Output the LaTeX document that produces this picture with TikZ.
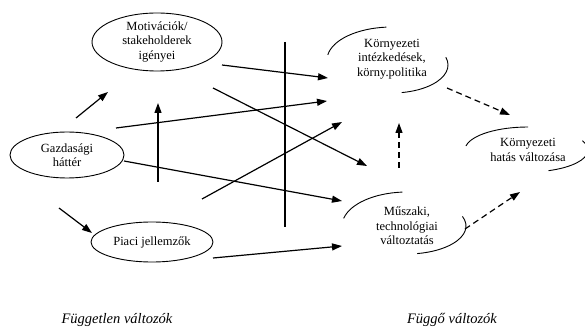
\documentclass[tikz,border=0pt]{standalone}
\usepackage{fontspec}
\setmainfont{Liberation Serif}
\usetikzlibrary{arrows.meta,shapes.geometric}
\tikzset{
  oval/.style={ellipse, draw, line width=0.9pt, inner sep=0pt, align=center, font=\fontsize{12.5}{14.5}\selectfont},
  field/.style={align=center, font=\fontsize{12.5}{14.5}\selectfont},
  rim/.style={line width=0.9pt},
  arr/.style={line width=1.2pt, -{Triangle[length=10pt,width=7pt]}},
  darr/.style={arr, dash pattern=on 6pt off 4pt},
  axis label/.style={font=\fontsize{14.5}{16}\selectfont\itshape}
}
\begin{document}
\begin{tikzpicture}[x=1pt, y=1pt]
            \useasboundingbox (0,0) rectangle (585,329);

            \node (motiv) at (157,287) [oval, minimum width=130pt, minimum height=58pt] {Motivációk/\\stakeholderek\\igényei};
            \node (gazd) at (67,174) [oval, minimum width=114pt, minimum height=46pt] {Gazdasági\\háttér};
            \node (piaci) at (152,87) [oval, minimum width=122pt, minimum height=40pt] {Piaci jellemzők};

            \node (kornyint) at (392,270) [field] {Környezeti\\intézkedések,\\körny.politika};
            \node (hatas) at (528,179) [field] {Környezeti\\hatás változása};
            \node (muszaki) at (407,103) [field] {Műszaki,\\technológiai\\változtatás};

            \draw[rim] ([yshift=-1pt]kornyint.center) ++(171:65pt and 33pt) arc[start angle=171, end angle=95, x radius=65pt, y radius=33pt];
            \draw[rim] ([yshift=-6pt]kornyint.center) ++(16:56pt and 28pt) arc[start angle=16, end angle=-80, x radius=56pt, y radius=28pt];
            \draw[rim] (hatas.center) ++(170:63pt and 23pt) arc[start angle=170, end angle=90, x radius=63pt, y radius=23pt];
            \draw[rim] (hatas.center) ++(25:60pt and 22pt) arc[start angle=25, end angle=-70, x radius=60pt, y radius=22pt];
            \draw[rim] (muszaki.center) ++(167:65pt and 34pt) arc[start angle=167, end angle=94, x radius=65pt, y radius=34pt];
            \draw[rim] (muszaki.center) ++(20:59pt and 28pt) arc[start angle=20, end angle=-80, x radius=59pt, y radius=28pt];

            \coordinate (sep-top) at (285,287);
            \coordinate (sep-bot) at (285,102);
            \draw[line width=1.2pt] (sep-top) -- (sep-bot);

            \coordinate (gazd-up) at (76,211);
            \coordinate (motiv-in1) at (108,237);
            \coordinate (mid-low) at (158,147);
            \coordinate (motiv-in2) at (158,226);
            \coordinate (gazd-down) at (59,121);
            \coordinate (piaci-in) at (92,96);
            \coordinate (motiv-out1) at (222,264);
            \coordinate (motiv-out2) at (213,241);
            \coordinate (gazd-out1) at (116,201);
            \coordinate (gazd-out2) at (124,168);
            \coordinate (piaci-up) at (202,130);
            \coordinate (piaci-out) at (213,71);
            \coordinate (kornyint-in1) at (328,251);
            \coordinate (kornyint-in2) at (327,228);
            \coordinate (kornyint-in3) at (342,207);
            \coordinate (kornyint-in4) at (399,206);
            \coordinate (kornyint-out) at (447,241);
            \coordinate (muszaki-in1) at (367,163);
            \coordinate (muszaki-in2) at (342,128);
            \coordinate (muszaki-in3) at (342,83);
            \coordinate (muszaki-up) at (399,161);
            \coordinate (muszaki-out) at (465,100);
            \coordinate (hatas-in1) at (510,214);
            \coordinate (hatas-in2) at (520,137);

            \draw[arr] (gazd-up) -- (motiv-in1);
            \draw[arr] (mid-low) -- (motiv-in2);
            \draw[arr] (gazd-down) -- (piaci-in);
            \draw[arr] (motiv-out1) -- (kornyint-in1);
            \draw[arr] (motiv-out2) -- (muszaki-in1);
            \draw[arr] (gazd-out1) -- (kornyint-in2);
            \draw[arr] (gazd-out2) -- (muszaki-in2);
            \draw[arr] (piaci-up) -- (kornyint-in3);
            \draw[arr] (piaci-out) -- (muszaki-in3);

            \draw[darr] (kornyint-out) -- (hatas-in1);
            \draw[darr] (muszaki-up) -- (kornyint-in4);
            \draw[darr] (muszaki-out) -- (hatas-in2);

            \node (fuggetlen) at (117,9) [axis label] {Független változók};
            \node (fuggo) at (452,9) [axis label] {Függő változók};
        \end{tikzpicture}
\end{document}
